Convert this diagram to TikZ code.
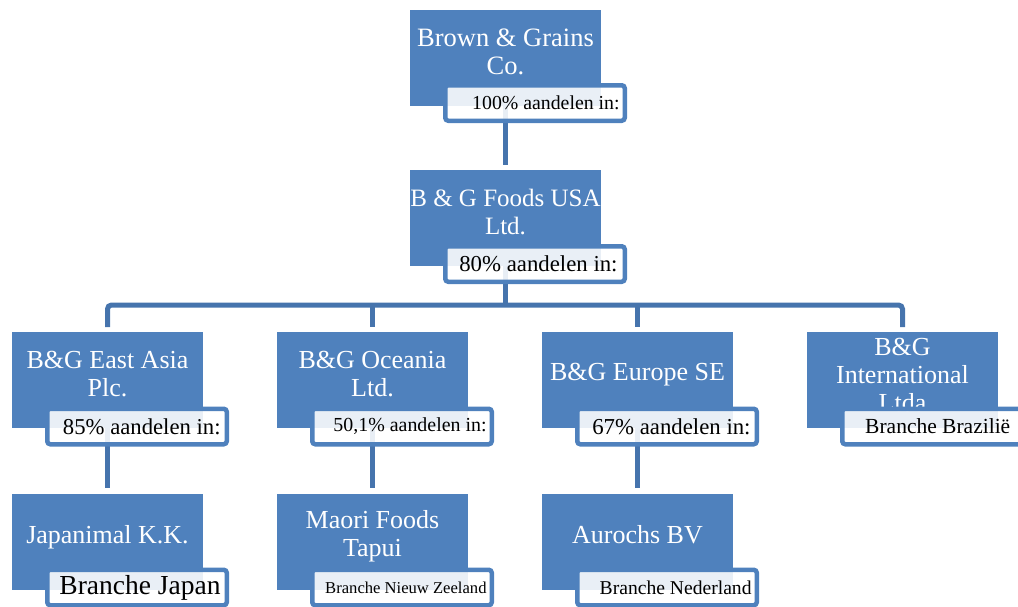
\documentclass[tikz,border=0pt]{standalone}
\usepackage{fontspec}
\setmainfont{Liberation Serif}
\definecolor{boxblue}{HTML}{4F81BD}
\definecolor{lineblue}{HTML}{4674AD}
\begin{document}
\begin{tikzpicture}[x=1pt,y=-1pt,
  box/.style={fill=boxblue, draw=none, minimum width=191pt, minimum height=96pt, inner sep=0pt, outer sep=0pt},
  btext/.style={text=white, align=center, font=\fontsize{26}{28}\selectfont, inner sep=0pt},
  lab/.style={draw=boxblue, line width=4.5pt, rounded corners=3pt, fill=white, fill opacity=0.88, minimum width=179.5pt, minimum height=35.5pt, inner sep=0pt, outer sep=0pt},
  ltext/.style={text=black, inner sep=0pt, anchor=east},
  conn/.style={draw=lineblue, line width=5pt},
]
\useasboundingbox (0,0) rectangle (1018,606);
% boxes
\node[box] (b1) at (505.5,58) {};
\node[box] (b2) at (505.5,218) {};
\node[box] (c1) at (107.5,380) {};
\node[box] (c2) at (372.5,380) {};
\node[box] (c3) at (637.5,380) {};
\node[box] (c4) at (902.5,380) {};
\node[box] (d1) at (107.5,542) {};
\node[box] (d2) at (372.5,542) {};
\node[box] (d3) at (637.5,542) {};
% box texts
\node[btext, font=\fontsize{26.5}{28}\selectfont] (t1) at ([yshift=6pt]b1.center) {Brown \& Grains\\Co.};
\node[btext, font=\fontsize{25}{28}\selectfont] (t2) at ([yshift=6pt]b2.center) {B \& G Foods USA\\Ltd.};
\node[btext] (u1) at ([yshift=6pt]c1.center) {B\&G East Asia\\Plc.};
\node[btext] (u2) at ([yshift=6pt]c2.center) {B\&G Oceania\\Ltd.};
\node[btext] (u3) at ([yshift=5pt]c3.center) {B\&G Europe SE};
\node[btext] (u4) at ([yshift=5pt]c4.center) {B\&G\\International\\Ltda};
\node[btext] (v1) at ([yshift=5pt]d1.center) {Japanimal K.K.};
\node[btext] (v2) at ([yshift=6pt]d2.center) {Maori Foods\\Tapui};
\node[btext] (v3) at ([yshift=7pt]d3.center) {Aurochs BV};
% connectors
\coordinate (bar) at (505.5,305);
\draw[conn] (b1.south) -- ([yshift=5pt]b2.north);
\draw[conn] (b2.south) -- (bar);
\draw[conn, rounded corners=4pt] ([yshift=5pt]c1.north) |- (bar) -| ([yshift=5pt]c4.north);
\draw[conn] (bar -| c2.north) -- ([yshift=5pt]c2.north);
\draw[conn] (bar -| c3.north) -- ([yshift=5pt]c3.north);
\draw[conn] (c1.south) -- ([yshift=6pt]d1.north);
\draw[conn] (c2.south) -- ([yshift=6pt]d2.north);
\draw[conn] (c3.south) -- ([yshift=6pt]d3.north);
% labels
\node[lab] (l1) at ([xshift=29.5pt,yshift=3pt]b1.south) {};
\node[lab] (l2) at ([xshift=29.5pt,yshift=2pt]b2.south) {};
\node[lab] (m1) at ([xshift=29.5pt,yshift=1.5pt]c1.south) {};
\node[lab] (m2) at ([xshift=29.5pt,yshift=1.5pt]c2.south) {};
\node[lab] (m3) at ([xshift=29.5pt,yshift=1.5pt]c3.south) {};
\node[lab] (m4) at ([xshift=29.5pt,yshift=1.5pt]c4.south) {};
\node[lab] (n1) at ([xshift=29.5pt,yshift=2.5pt]d1.south) {};
\node[lab] (n2) at ([xshift=29.5pt,yshift=2.5pt]d2.south) {};
\node[lab] (n3) at ([xshift=29.5pt,yshift=2.5pt]d3.south) {};
% label texts
\node[ltext, font=\fontsize{19.8}{22}\selectfont] (lt1) at ([xshift=-5pt]l1.east) {100\% aandelen in:};
\node[ltext, font=\fontsize{22.8}{24}\selectfont] (lt2) at ([xshift=-7pt]l2.east) {80\% aandelen in:};
\node[ltext, font=\fontsize{22.7}{24}\selectfont] (mt1) at ([xshift=-6pt]m1.east) {85\% aandelen in:};
\node[ltext, font=\fontsize{19.9}{22}\selectfont] (mt2) at ([xshift=-5pt]m2.east) {50,1\% aandelen in:};
\node[ltext, font=\fontsize{22.8}{24}\selectfont] (mt3) at ([xshift=-6pt]m3.east) {67\% aandelen in:};
\node[ltext, anchor=west, font=\fontsize{21.5}{24}\selectfont] (mt4) at ([xshift=22.75pt]m4.west) {Branche Brazilië};
\node[ltext, font=\fontsize{27.5}{30}\selectfont] (nt1) at ([xshift=-6pt]n1.east) {Branche Japan};
\node[ltext, font=\fontsize{16.6}{20}\selectfont] (nt2) at ([xshift=-5pt]n2.east) {Branche Nieuw Zeeland};
\node[ltext, font=\fontsize{19.6}{22}\selectfont] (nt3) at ([xshift=-5pt]n3.east) {Branche Nederland};
\end{tikzpicture}
\end{document}
